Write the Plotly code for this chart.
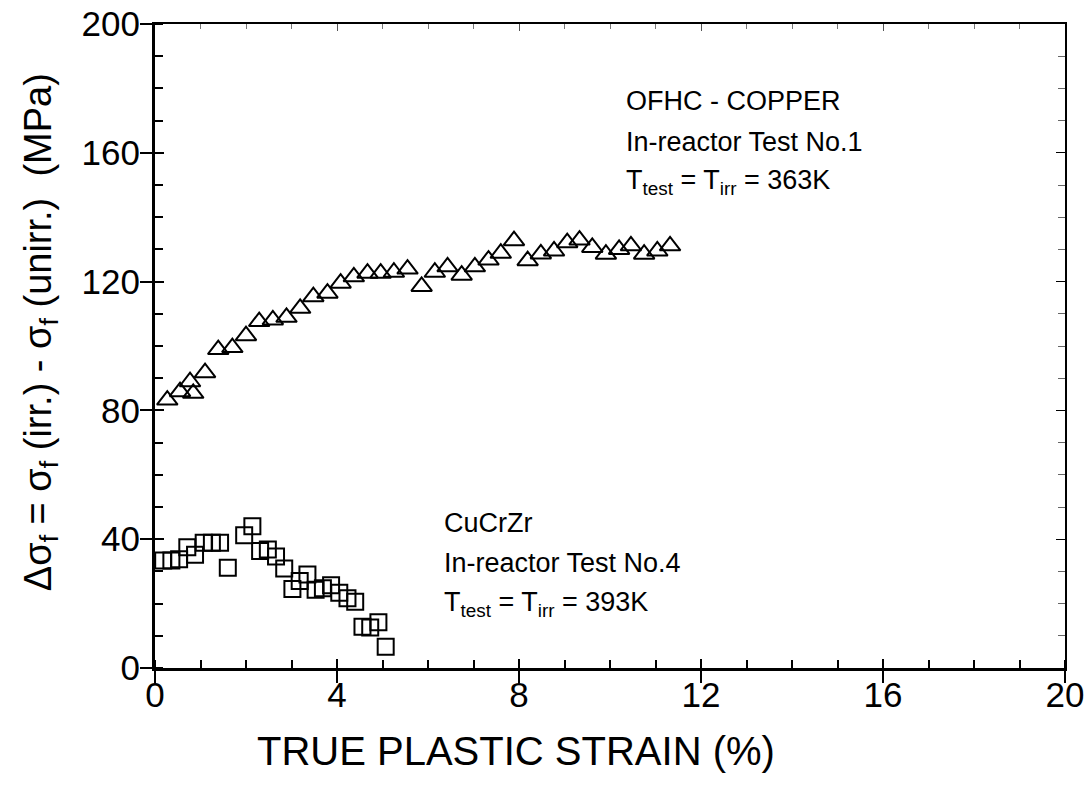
import plotly.graph_objects as go

# OFHC copper, in-reactor test No.1 (T = 363 K)
strain_ofhc = [0.27, 0.55, 0.77, 0.84, 1.10, 1.39, 1.70, 2.00, 2.29, 2.59,
               2.89, 3.19, 3.48, 3.79, 4.08, 4.37, 4.67, 4.96, 5.25, 5.55,
               5.86, 6.15, 6.43, 6.74, 7.03, 7.33, 7.60, 7.89, 8.19, 8.48,
               8.77, 9.06, 9.33, 9.61, 9.91, 10.20, 10.46, 10.75, 11.04, 11.32]
dsigma_ofhc = [83.2, 85.8, 88.9, 85.3, 91.7, 98.9, 99.5, 103.2, 107.6, 108.1,
               108.9, 111.7, 115.3, 116.4, 119.5, 121.5, 122.6, 122.6, 122.9, 123.9,
               118.5, 122.9, 124.6, 122.0, 124.6, 126.7, 128.8, 132.7, 126.5, 128.6,
               129.5, 132.1, 132.9, 130.6, 128.5, 130.0, 131.1, 128.5, 129.5, 131.1]

# CuCrZr, in-reactor test No.4 (T = 393 K)
strain_cucrzr = [0.18, 0.36, 0.53, 0.71, 0.88, 1.07, 1.25, 1.43, 1.60, 1.96,
                 2.14, 2.31, 2.48, 2.66, 2.84, 3.02, 3.18, 3.35, 3.53, 3.69,
                 3.87, 4.05, 4.23, 4.40, 4.56, 4.73, 4.91, 5.07]
dsigma_cucrzr = [33.4, 33.4, 33.8, 37.5, 35.2, 38.9, 38.9, 38.9, 31.1, 41.2,
                 44.0, 36.3, 36.8, 34.6, 30.9, 24.5, 27.0, 29.0, 24.3, 24.8,
                 25.7, 23.4, 21.7, 20.6, 12.8, 12.6, 14.2, 6.6]

x_range = [0, 20]
y_range = [0, 200]
x_tick_step = 4
y_tick_step = 40

FONT = "Liberation Sans, Arial, sans-serif"
TICK_FONT = dict(size=35, family=FONT, color="black")

fig = go.Figure()

fig.add_trace(go.Scatter(
    x=strain_ofhc, y=dsigma_ofhc, mode="markers",
    marker=dict(symbol="triangle-up-open", size=18, color="black",
                line=dict(width=2, color="black")),
    showlegend=False, hoverinfo="x+y"))

fig.add_trace(go.Scatter(
    x=strain_cucrzr, y=dsigma_cucrzr, mode="markers",
    marker=dict(symbol="square-open", size=16, color="black",
                line=dict(width=2, color="black")),
    showlegend=False, hoverinfo="x+y"))

# empty traces so the frame axes (top/right and inner tick halves) get drawn
fig.add_trace(go.Scatter(x=[], y=[], xaxis="x2", yaxis="y2", showlegend=False))
fig.add_trace(go.Scatter(x=[], y=[], xaxis="x3", yaxis="y3", showlegend=False))

common = dict(showgrid=False, zeroline=False, automargin=False)

fig.update_layout(
    template="none",
    width=1088, height=798,
    margin=dict(l=155, r=23, t=24, b=130, pad=0),
    paper_bgcolor="white", plot_bgcolor="white",
    font=dict(family=FONT, color="black"),
    # bottom / left: heavy lines, outer half of major ticks, minor ticks inside
    xaxis=dict(range=x_range, dtick=x_tick_step, tick0=0, showline=True,
               linewidth=3, linecolor="black", ticks="outside", ticklen=12,
               tickwidth=2, tickcolor="black", side="bottom",
               showticklabels=False,
               minor=dict(dtick=1, ticks="inside", ticklen=8, tickwidth=2,
                          tickcolor="black"),
               **common),
    yaxis=dict(range=y_range, dtick=y_tick_step, tick0=0, showline=True,
               linewidth=3, linecolor="black", ticks="outside", ticklen=12,
               tickwidth=2, tickcolor="black", side="left",
               showticklabels=False,
               minor=dict(dtick=10, ticks="inside", ticklen=8, tickwidth=2,
                          tickcolor="black"),
               **common),
    # top / right frame: lighter lines with inside ticks
    xaxis2=dict(range=x_range, dtick=x_tick_step, tick0=0, overlaying="x",
                anchor="y2", side="top", showline=True, linewidth=2,
                linecolor="black", ticks="inside", ticklen=7, tickwidth=1,
                tickcolor="#555", showticklabels=False,
                minor=dict(dtick=1, ticks="inside", ticklen=5, tickwidth=1,
                           tickcolor="#777"),
                **common),
    yaxis2=dict(range=y_range, dtick=y_tick_step, tick0=0, overlaying="y",
                anchor="x2", side="right", showline=True, linewidth=2,
                linecolor="black", ticks="inside", ticklen=9, tickwidth=1,
                tickcolor="black", showticklabels=False,
                minor=dict(dtick=10, ticks="inside", ticklen=7, tickwidth=1,
                           tickcolor="#666"),
                **common),
    # inner half of the major ticks on bottom / left, carrying the labels
    xaxis3=dict(range=x_range, dtick=x_tick_step, tick0=0, overlaying="x",
                anchor="y3", side="bottom", showline=False, ticks="inside",
                ticklen=9, tickwidth=2, tickcolor="black",
                showticklabels=True, tickfont=TICK_FONT,
                ticklabelstandoff=3, **common),
    yaxis3=dict(range=y_range, dtick=y_tick_step, tick0=0, overlaying="y",
                anchor="x3", side="left", showline=False, ticks="inside",
                ticklen=9, tickwidth=2, tickcolor="black",
                showticklabels=True, tickfont=TICK_FONT,
                ticklabelstandoff=14, **common),
)

annotations = [
    # axis titles
    dict(text="TRUE PLASTIC STRAIN (%)", xref="paper", yref="paper",
         x=0.397, y=-0.129, xanchor="center", yanchor="middle",
         showarrow=False, font=dict(size=40, family=FONT)),
    dict(text="Δσ<sub>f</sub> = σ<sub>f</sub> (irr.) - σ<sub>f</sub> (unirr.)\u00a0\u00a0(MPa)",
         xref="paper", yref="paper", x=-0.126, y=0.522, textangle=-90,
         xanchor="center", yanchor="middle", showarrow=False,
         font=dict(size=38, family=FONT)),
]

ofhc_lines = ["OFHC - COPPER", "In-reactor Test No.1",
              "T<sub>test</sub> = T<sub>irr</sub> = 363K"]
cucrzr_lines = ["CuCrZr", "In-reactor Test No.4",
                "T<sub>test</sub> = T<sub>irr</sub> = 393K"]

for i, line in enumerate(ofhc_lines):
    annotations.append(dict(text=line, x=10.3, y=176.0 - 12.5 * i,
                            xref="x", yref="y", xanchor="left",
                            yanchor="middle", showarrow=False,
                            font=dict(size=27, family=FONT)))
for i, line in enumerate(cucrzr_lines):
    annotations.append(dict(text=line, x=6.3, y=45.0 - 12.5 * i,
                            xref="x", yref="y", xanchor="left",
                            yanchor="middle", showarrow=False,
                            font=dict(size=27, family=FONT)))

fig.update_layout(annotations=annotations)

fig.write_html("out.html")
